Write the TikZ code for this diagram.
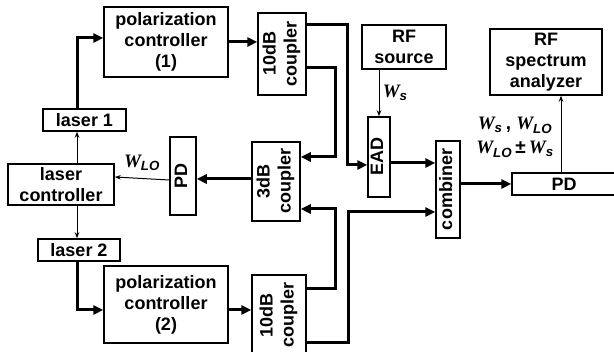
\documentclass[tikz,border=0pt]{standalone}
\usepackage{fontspec}
\setmainfont{Liberation Sans}
\newfontfamily\wserif{Liberation Serif}
\usetikzlibrary{arrows.meta,calc}
\newcommand{\vtext}[1]{\rotatebox{90}{\begin{tabular}{@{}c@{}}#1\end{tabular}}}
\newcommand{\freq}[1]{{\wserif\bfseries\itshape W}\textsubscript{\bfseries\itshape #1}}

\begin{document}
\begin{tikzpicture}[x=1pt, y=1pt,
  font=\fontsize{18}{21}\selectfont\bfseries,
  block/.style={draw, line width=1.5pt, align=center, inner sep=0pt},
  label/.style={font=\fontsize{19}{22}\selectfont\bfseries},
  thickarrow/.style={line width=3pt, -{Triangle[length=10pt,width=9pt]}},
  thinarrow/.style={line width=1pt, -{Stealth[length=6pt,width=4.5pt]}}]
\useasboundingbox (0,0) rectangle (614,352);
\node[block, minimum width=124, minimum height=70] (pc1) at (166,310) {polarization\\controller\\(1)};
\node[block, minimum width=48, minimum height=82] (cpa) at (282,298) {\vtext{10dB\\coupler}};
\node[block, minimum width=84, minimum height=44] (rfs) at (404,305) {RF\\source};
\node[block, minimum width=112, minimum height=66] (rfsa) at (546,290) {RF\\spectrum\\analyzer};
\node[block, minimum width=83, minimum height=22] (las1) at (84.5,232) {laser 1};
\node[block, minimum width=106, minimum height=41] (lc) at (61,167.5) {laser\\controller};
\node[block, minimum width=26, minimum height=78] (pdl) at (183,176) {\vtext{PD}};
\node[block, minimum width=48, minimum height=79] (cpc) at (276,170.5) {\vtext{3dB\\coupler}};
\node[block, minimum width=22, minimum height=80] (ead) at (379,195) {\vtext{EAD}};
\node[block, minimum width=24, minimum height=97] (comb) at (448,162.5) {\vtext{combiner}};
\node[block, minimum width=104, minimum height=22] (pdr) at (564,168) {PD};
\node[block, minimum width=82, minimum height=22] (las2) at (79,102) {laser 2};
\node[block, minimum width=124, minimum height=77] (pc2) at (166,47.5) {polarization\\controller\\(2)};
\node[block, minimum width=54, minimum height=81] (cpb) at (279,36.5) {\vtext{10dB\\coupler}};
% upper branch
\draw[thickarrow] ([xshift=-7.5pt]las1.north) |- ([yshift=4pt]pc1.west);
\draw[thickarrow] (pc1.east) -- (pc1.east -| cpa.west);
\draw[thickarrow] ([yshift=29pt]cpa.east) -- ++(41,0) |- ([yshift=-8pt]ead.west);
\draw[thickarrow] ([yshift=-14pt]cpa.east) -- ++(29,0) |- ([yshift=24.5pt]cpc.east);
% feedback loop
\draw[thickarrow] ([yshift=2.5pt]cpc.west) -- ([yshift=2.5pt]cpc.west -| pdl.east);
\draw[thinarrow] ([yshift=-4pt]pdl.west) -- node[label, above=4pt]{\freq{LO}} ([yshift=7.5pt]lc.east);
\draw[thinarrow] ([xshift=16pt]lc.north) -- ([xshift=16pt]lc.north |- las1.south);
\draw[thinarrow] ([xshift=16pt]lc.south) -- ([xshift=16pt]lc.south |- las2.north);
% lower branch
\draw[thickarrow] ([xshift=-2pt]las2.south) |- ([yshift=-5.5pt]pc2.west);
\draw[thickarrow] ([yshift=-5.5pt]pc2.east) -- ([yshift=-5.5pt]pc2.east -| cpb.west);
\draw[thickarrow] ([yshift=26.5pt]cpb.east) -- ++(29,0) |- ([yshift=-27.5pt]cpc.east);
\draw[thickarrow] ([yshift=-27.5pt]cpb.east) -- ++(42,0) |- ([yshift=-22.5pt]comb.west);
% detection
\draw[thickarrow] ([yshift=-6pt]ead.east) -- ([yshift=-6pt]ead.east -| comb.west);
\draw[thickarrow] (comb.east |- pdr.west) -- (pdr.west);
\draw[thinarrow] (ead.north |- rfs.south) -- node[label, right]{\freq{s}} (ead.north);
\draw[thinarrow] ([xshift=-3pt]pdr.north) -- ([xshift=-3pt]pdr.north |- rfsa.south);
\node[label, align=center] (mix) at (515,214.5) {\freq{s}\,,\ \freq{LO}\\[2pt]\freq{LO}\,\textpm\,\freq{s}};
\end{tikzpicture}
\end{document}
